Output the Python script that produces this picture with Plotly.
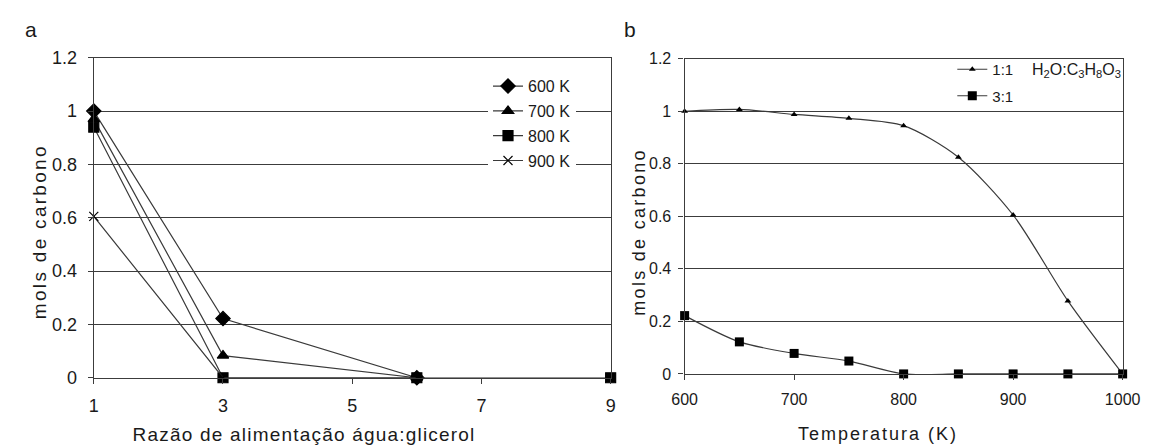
import plotly.graph_objects as go

# Panel a: carbon moles vs. water:glycerol feed ratio
ratio_600 = [1, 3, 6]
mols_600 = [1.0, 0.222, 0.0]
ratio_700 = [1, 3, 6]
mols_700 = [0.97, 0.083, 0.0]
ratio_800 = [1, 3, 6, 9]
mols_800 = [0.94, 0.0, 0.0, 0.0]
ratio_900 = [1, 3, 6]
mols_900 = [0.605, 0.0, 0.0]
ratio_ticks = [1, 3, 5, 7, 9]

# Panel b: carbon moles vs. temperature
temps = [600, 650, 700, 750, 800, 850, 900, 950, 1000]
mols_1to1 = [1.0, 1.007, 0.988, 0.973, 0.945, 0.825, 0.605, 0.278, 0.0]
mols_3to1 = [0.222, 0.122, 0.078, 0.049, 0.0, 0.0, 0.0, 0.0, 0.0]
temp_ticks = [600, 700, 800, 900, 1000]
mol_ticks = [0, 0.2, 0.4, 0.6, 0.8, 1, 1.2]
mol_labels = ["0", "0.2", "0.4", "0.6", "0.8", "1", "1.2"]

W, H = 1164, 446
FONT = "Liberation Sans, Arial, sans-serif"
INK = "#1a1a1a"
GRID = "#3c3c3c"


def px_x(p):
    return p / W


def px_y(p):
    return 1 - p / H


fig = go.Figure()

series_a = [
    ("600 K", ratio_600, mols_600, "diamond", 11),
    ("700 K", ratio_700, mols_700, "triangle-up", 10),
    ("800 K", ratio_800, mols_800, "square", 10),
    ("900 K", ratio_900, mols_900, "x-thin", 9),
]
for name, xs, ys, sym, size in series_a:
    fig.add_trace(go.Scatter(
        x=xs, y=ys, name=name, mode="lines+markers",
        line=dict(color="#3a3a3a", width=1.2),
        marker=dict(symbol=sym, size=size, color="black",
                    line=dict(color="black", width=1.2)),
        xaxis="x", yaxis="y", legend="legend", legendgroup=name,
        cliponaxis=False,
    ))

fig.add_trace(go.Scatter(
    x=temps, y=mols_1to1, name="1:1", mode="lines+markers",
    line=dict(color="#3a3a3a", width=1.2, shape="spline", smoothing=0.8),
    marker=dict(symbol="triangle-up", size=6, color="black"),
    xaxis="x2", yaxis="y2", legend="legend2", legendgroup="r1",
    cliponaxis=False,
))
fig.add_trace(go.Scatter(
    x=temps, y=mols_3to1, name="3:1", mode="lines+markers",
    line=dict(color="#3a3a3a", width=1.2, shape="spline", smoothing=0.8),
    marker=dict(symbol="square", size=9, color="black"),
    xaxis="x2", yaxis="y2", legend="legend2", legendgroup="r3",
    cliponaxis=False,
))

axis_common = dict(
    showline=True, linecolor=GRID, linewidth=1.3, mirror=True,
    ticks="outside", ticklen=5, tickcolor=GRID, tickwidth=1.3,
    zeroline=False, fixedrange=True, tickmode="array",
)

fig.update_layout(
    width=W, height=H,
    margin=dict(l=0, r=0, t=0, b=0),
    paper_bgcolor="white", plot_bgcolor="white",
    font=dict(family=FONT, color=INK),
    xaxis=dict(
        domain=[px_x(83), px_x(614)], range=[1, 9],
        tickvals=ratio_ticks, ticktext=[str(v) for v in ratio_ticks],
        showgrid=False, ticklabelstandoff=7,
        tickfont=dict(size=18), anchor="y", **axis_common,
    ),
    yaxis=dict(
        domain=[px_y(385), px_y(50)], range=[0, 1.2],
        tickvals=mol_ticks, ticktext=mol_labels,
        showgrid=True, gridcolor=GRID, gridwidth=1.4, ticklabelstandoff=7,
        tickfont=dict(size=18), anchor="x", **axis_common,
    ),
    xaxis2=dict(
        domain=[px_x(690), px_x(1140)], range=[600, 1000],
        tickvals=temp_ticks, ticktext=[str(v) for v in temp_ticks],
        showgrid=False, ticklabelstandoff=6,
        tickfont=dict(size=16), anchor="y2", **axis_common,
    ),
    yaxis2=dict(
        domain=[px_y(381), px_y(51)], range=[0, 1.2],
        tickvals=mol_ticks, ticktext=mol_labels,
        showgrid=True, gridcolor=GRID, gridwidth=1.4, ticklabelstandoff=4,
        tickfont=dict(size=16), anchor="x2", **axis_common,
    ),
    legend=dict(
        x=px_x(488), y=px_y(62), xanchor="left", yanchor="top",
        bgcolor="white", borderwidth=0, tracegroupgap=1,
        font=dict(size=16, color=INK), itemwidth=30,
    ),
    legend2=dict(
        x=px_x(965), y=px_y(45), xanchor="left", yanchor="top",
        bgcolor="rgba(0,0,0,0)", borderwidth=0, tracegroupgap=4,
        font=dict(size=15, color=INK), itemwidth=30,
    ),
    showlegend=True,
)

annotations = [
    dict(text="a", x=px_x(18), y=px_y(20), font=dict(size=21)),
    dict(text="b", x=px_x(634), y=px_y(20), font=dict(size=21)),
    dict(text="H<sub>2</sub>O:C<sub>3</sub>H<sub>8</sub>O<sub>3</sub>",
         x=px_x(1093), y=px_y(63), font=dict(size=16)),
    dict(text="Razão de alimentação água:glicerol", x=px_x(299), y=px_y(444),
         font=dict(size=19)),
    dict(text="Temperatura (K)", x=px_x(889), y=px_y(444), font=dict(size=18)),
    dict(text="mols de carbono", x=px_x(27), y=px_y(232), textangle=-90,
         font=dict(size=19)),
    dict(text="mols de carbono", x=px_x(643), y=px_y(232), textangle=-90,
         font=dict(size=18)),
]
for a in annotations:
    a.update(xref="paper", yref="paper", showarrow=False,
             xanchor="center", yanchor="middle")
    a["font"].update(family=FONT, color=INK)
fig.update_layout(annotations=annotations)

# Spread out the letters of the axis titles
spacing_js = """
var spacing = {
  'Razão de alimentação água:glicerol': '1.2px',
  'Temperatura (K)': '2px',
  'mols de carbono': '2.3px'
};
document.querySelectorAll('text.annotation-text').forEach(function (t) {
  var s = spacing[t.textContent];
  if (s) { t.setAttribute('letter-spacing', s); }
});
"""

fig.write_html("out.html", post_script=spacing_js)
